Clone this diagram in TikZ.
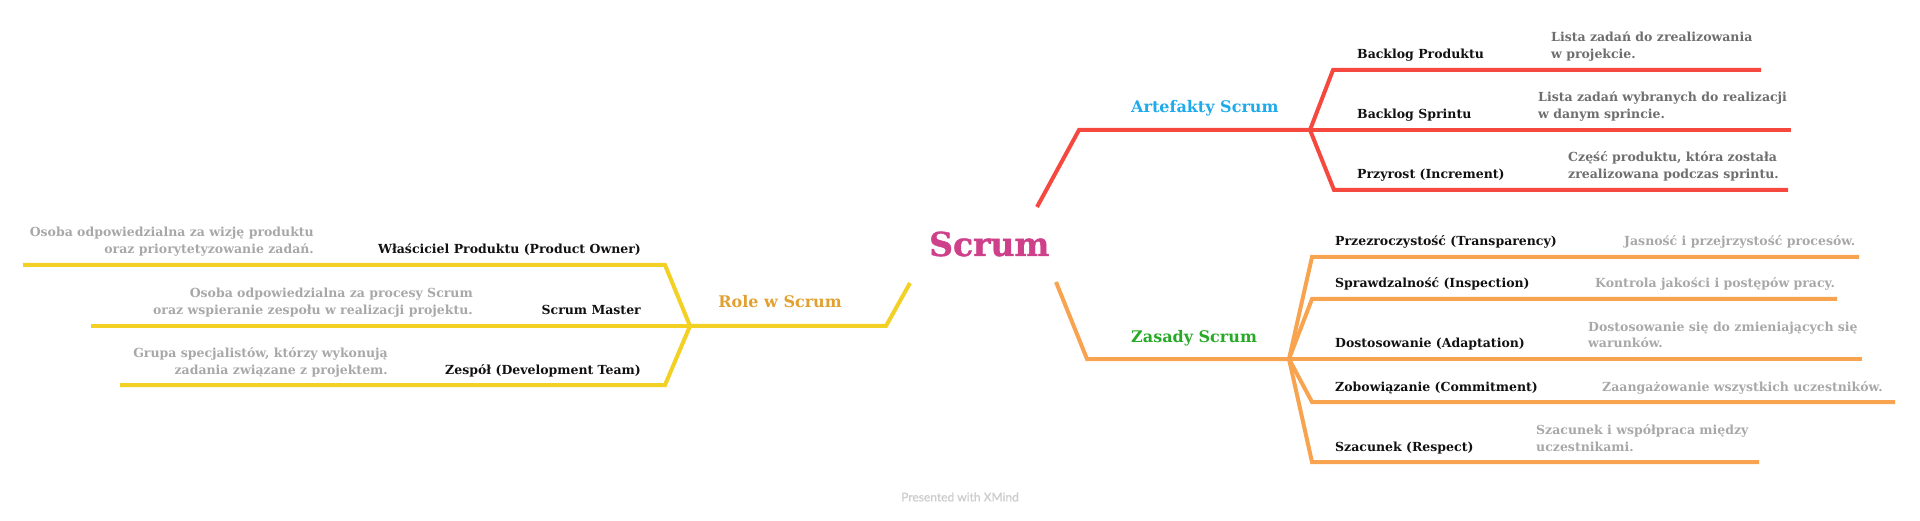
\documentclass[tikz,border=0pt]{standalone}
\usepackage{fontspec}
\setmainfont{DejaVu Serif}
\newfontfamily\latofont[FakeBold=1.2]{Lato}
\definecolor{cred}{RGB}{245,72,62}
\definecolor{corange}{RGB}{247,163,80}
\definecolor{cyellow}{RGB}{242,208,36}
\definecolor{cscrum}{RGB}{206,64,138}
\definecolor{cblue}{RGB}{30,170,235}
\definecolor{cgreen}{RGB}{40,170,40}
\definecolor{crole}{RGB}{225,160,48}
\definecolor{cdescdark}{RGB}{110,110,110}
\definecolor{cdesclight}{RGB}{168,168,168}
\definecolor{cfoot}{RGB}{205,205,205}
\definecolor{clabel}{RGB}{17,17,17}
\tikzset{
  branch/.style={line width=4pt},
  sublabel/.style={inner sep=0pt, text=clabel, font=\fontsize{12.5}{17}\selectfont\bfseries},
  desc/.style={inner sep=0pt, font=\fontsize{12.5}{17}\selectfont\bfseries},
  desctext/.style={desc, text=cdescdark},
  desclight/.style={desc, text=cdesclight},
  mainlabel/.style={inner sep=0pt, font=\fontsize{16}{20}\selectfont\bfseries},
}
\begin{document}
\begin{tikzpicture}[x=1pt,y=-1pt]
\useasboundingbox (0,0) rectangle (1920,521);
% central topic
\node[inner sep=0pt, anchor=base west, text=cscrum, font=\fontsize{33}{40}\selectfont\bfseries\addfontfeatures{FakeBold=1.2}] (scrum) at (929,256) {Scrum};
% ---------- red branch: Artefakty Scrum ----------
\coordinate (rs) at (1037,207);
\coordinate (rc) at (1079,130);
\coordinate (rj) at (1310,130);
\coordinate (r1c) at (1333,70);
\coordinate (r1e) at (1761,70);
\coordinate (r2e) at (1791,130);
\coordinate (r3c) at (1334,190);
\coordinate (r3e) at (1788,190);
\draw[branch, cred] (rs) -- (rc) -- (rj);
\draw[branch, cred] (rj) -- (r1c) -- (r1e);
\draw[branch, cred] (rj) -- (r2e);
\draw[branch, cred] (rj) -- (r3c) -- (r3e);
\node[mainlabel, anchor=base west, text=cblue] (art) at (1131,113) {Artefakty Scrum};
\node[sublabel, anchor=base west] (bp) at (1357,59) {Backlog Produktu};
\node[sublabel, anchor=base west] (bs) at (1357,119) {Backlog Sprintu};
\node[sublabel, anchor=base west] (pi) at (1357,179) {Przyrost (Increment)};
\node[desctext, anchor=base west, align=left] (bpd) at (1551,59) {Lista zadań do zrealizowania\\w projekcie.};
\node[desctext, anchor=base west, align=left] (bsd) at (1538,119) {Lista zadań wybranych do realizacji\\w danym sprincie.};
\node[desctext, anchor=base west, align=left] (pid) at (1568,179) {Część produktu, która została\\zrealizowana podczas sprintu.};
% ---------- orange branch: Zasady Scrum ----------
\coordinate (os) at (1056,282);
\coordinate (oc) at (1087,359);
\coordinate (oj) at (1289,359);
\coordinate (o1c) at (1312,257);
\coordinate (o1e) at (1859,257);
\coordinate (o2c) at (1312,299);
\coordinate (o2e) at (1837,299);
\coordinate (o3e) at (1862,359);
\coordinate (o4c) at (1312,402);
\coordinate (o4e) at (1895,402);
\coordinate (o5c) at (1312,462);
\coordinate (o5e) at (1759,462);
\draw[branch, corange] (os) -- (oc) -- (oj);
\draw[branch, corange] (oj) -- (o1c) -- (o1e);
\draw[branch, corange] (oj) -- (o2c) -- (o2e);
\draw[branch, corange] (oj) -- (o3e);
\draw[branch, corange] (oj) -- (o4c) -- (o4e);
\draw[branch, corange] (oj) -- (o5c) -- (o5e);
\node[mainlabel, anchor=base west, text=cgreen] (zas) at (1131,342) {Zasady Scrum};
\node[sublabel, anchor=base west] (tr) at (1335,246) {Przezroczystość (Transparency)};
\node[sublabel, anchor=base west] (in) at (1335,288) {Sprawdzalność (Inspection)};
\node[sublabel, anchor=base west] (ad) at (1335,348) {Dostosowanie (Adaptation)};
\node[sublabel, anchor=base west] (co) at (1335,391) {Zobowiązanie (Commitment)};
\node[sublabel, anchor=base west] (re) at (1335,451) {Szacunek (Respect)};
\node[desclight, anchor=base west] (trd) at (1624,246) {Jasność i przejrzystość procesów.};
\node[desclight, anchor=base west] (ind) at (1595,288) {Kontrola jakości i postępów pracy.};
\node[desclight, anchor=base west, align=left] (add) at (1588,348) {Dostosowanie się do zmieniających się\\warunków.};
\node[desclight, anchor=base west] (cod) at (1602,391) {Zaangażowanie wszystkich uczestników.};
\node[desclight, anchor=base west, align=left] (red) at (1536,451) {Szacunek i współpraca między\\uczestnikami.};
% ---------- yellow branch: Role w Scrum ----------
\coordinate (ys) at (910,283);
\coordinate (yc) at (886,326);
\coordinate (yj) at (690,326);
\coordinate (y1c) at (665,265);
\coordinate (y1e) at (23,265);
\coordinate (y2e) at (91,326);
\coordinate (y3c) at (665,385);
\coordinate (y3e) at (120,385);
\draw[branch, cyellow] (ys) -- (yc) -- (yj);
\draw[branch, cyellow] (yj) -- (y1c) -- (y1e);
\draw[branch, cyellow] (yj) -- (y2e);
\draw[branch, cyellow] (yj) -- (y3c) -- (y3e);
\node[mainlabel, anchor=base east, text=crole] (role) at (842,308) {Role w Scrum};
\node[sublabel, anchor=base east] (po) at (641,254) {Właściciel Produktu (Product Owner)};
\node[sublabel, anchor=base east] (sm) at (641,315) {Scrum Master};
\node[sublabel, anchor=base east] (dt) at (641,374) {Zespół (Development Team)};
\node[desclight, anchor=base east, align=right] (pod) at (314,254) {Osoba odpowiedzialna za wizję produktu\\oraz priorytetyzowanie zadań.};
\node[desclight, anchor=base east, align=right] (smd) at (473,315) {Osoba odpowiedzialna za procesy Scrum\\oraz wspieranie zespołu w realizacji projektu.};
\node[desclight, anchor=base east, align=right] (dtd) at (388,374) {Grupa specjalistów, którzy wykonują\\zadania związane z projektem.};
% footer
\node[inner sep=0pt, text=cfoot, font=\latofont\fontsize{12}{14}\selectfont] (foot) at (960,497) {Presented with XMind};
\end{tikzpicture}
\end{document}
